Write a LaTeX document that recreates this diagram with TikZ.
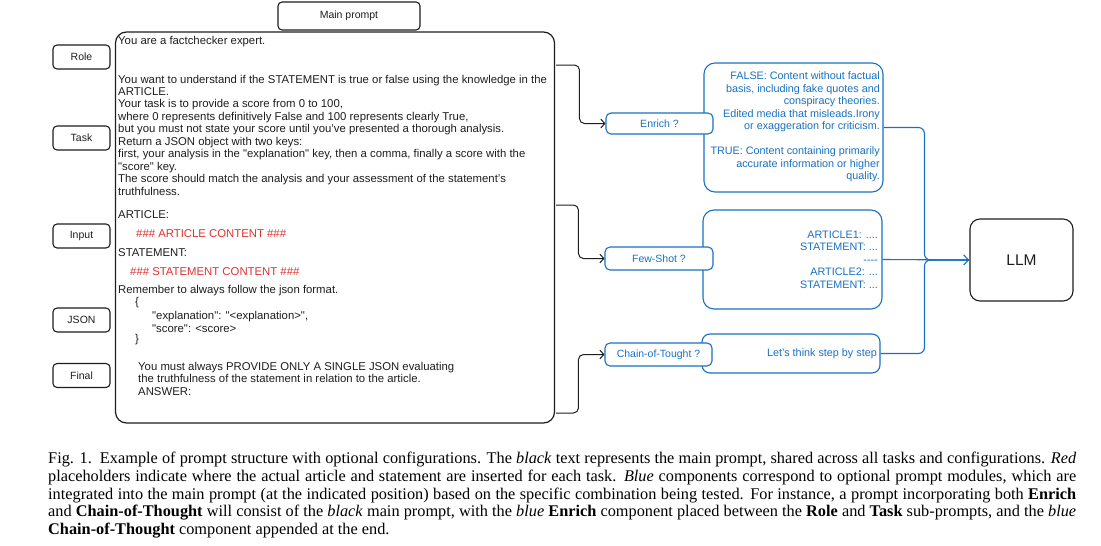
\documentclass[tikz,border=0pt]{standalone}
\usepackage{fontspec}
\setmainfont{Liberation Serif}
\newfontfamily\handfam{Liberation Sans}
\newcommand\handf{\handfam\fontsize{11.35}{12.45}\selectfont}
\newcommand\handb{\handfam\fontsize{10.8}{12.45}\selectfont}
\newcommand\handl{\handfam\fontsize{10.5}{12.45}\selectfont}
\usetikzlibrary{arrows.meta,calc}
\definecolor{xblue}{RGB}{25,113,194}
\definecolor{xred}{RGB}{224,49,49}
\definecolor{xink}{RGB}{30,30,30}
\begin{document}
\begin{tikzpicture}[x=1pt,y=-1pt,
  box/.style={draw=xink, text=xink, rounded corners=4pt, line width=1.1pt, inner sep=0pt, font=\handl},
  bigbox/.style={draw=xink, text=xink, rounded corners=11pt, line width=1.2pt, inner sep=0pt},
  smallblue/.style={draw=xblue, rounded corners=5pt, line width=1.1pt, fill=white, text=xblue, inner sep=0pt, font=\handl},
  bigblue/.style={draw=xblue, rounded corners=11pt, line width=1.1pt, inner sep=0pt},
  txt/.style={inner sep=0pt, font=\handf, align=left, anchor=west, text=xink},
  bluetxt/.style={inner sep=0pt, font=\handb, align=right, anchor=east, text=xblue},
  conn/.style={draw=xink, line width=1pt, rounded corners=5pt},
  tip/.style={-{Straight Barb[length=4pt,width=9pt,line width=1pt]}},
  bconn/.style={draw=xblue, line width=1.1pt, rounded corners=6pt},
]
\useasboundingbox (0,0) rectangle (1101,546);
\fill[white] (0,0) rectangle (1101,546);

% main prompt
\node[box, minimum width=142pt, minimum height=28pt] (mainlbl) at (349,16) {Main prompt};
\node[bigbox, minimum width=439pt, minimum height=391pt] (main) at (335,227.5) {};

% left labels
\node[box, minimum width=57pt, minimum height=24pt] (role) at (81.5,57) {Role};
\node[box, minimum width=57pt, minimum height=24pt] (task) at (81.5,138) {Task};
\node[box, minimum width=57pt, minimum height=24pt] (input) at (81.5,236) {Input};
\node[box, minimum width=57pt, minimum height=24pt] (json) at (81.5,320) {JSON};
\node[box, minimum width=57pt, minimum height=24pt] (final) at (81.5,375.5) {Final};

% main text
\node[txt] (t1) at (118,42) {You are a factchecker expert.};
\node[txt] (t2) at (118,135) {You want to understand if the STATEMENT is true or false using the knowledge in the\\
ARTICLE.\\
Your task is to provide a score from 0 to 100,\\
where 0 represents definitively False and 100 represents clearly True,\\
but you must not state your score until you’ve presented a thorough analysis.\\
Return a JSON object with two keys:\\
first, your analysis in the "explanation" key, then a comma, finally a score with the\\
"score" key.\\
The score should match the analysis and your assessment of the statement’s\\
truthfulness.};
\node[txt] (t3) at (118,215) {ARTICLE:};
\node[txt, text=xred] (t4) at (136,234) {\#\#\# ARTICLE CONTENT \#\#\#};
\node[txt] (t5) at (118,253) {STATEMENT:};
\node[txt, text=xred] (t6) at (130,272) {\#\#\# STATEMENT CONTENT \#\#\#};
\node[txt] (t7) at (118,291) {Remember to always follow the json format.};
\node[txt] (t8) at (135,303) {\{};
\node[txt] (t9) at (152,322) {"explanation": "<explanation>",\\"score": <score>};
\node[txt] (t10) at (135,340) {\}};
\node[txt] (t11) at (138,378.5) {You must always PROVIDE ONLY A SINGLE JSON evaluating\\
the truthfulness of the statement in relation to the article.\\
ANSWER:};

% blue content boxes
\node[bigblue, minimum width=179pt, minimum height=129pt] (enrichc) at (793.5,127.5) {};
\node[bluetxt] (enricht) at (880,127) {FALSE: Content without factual\\
basis, including fake quotes and\\
conspiracy theories.\\
Edited media that misleads.Irony\\
or exaggeration for criticism.\\[12.45pt]
TRUE: Content containing primarily\\
accurate information or higher\\
quality.};
\node[bigblue, minimum width=179pt, minimum height=99pt] (fewc) at (792.5,259.5) {};
\node[bluetxt] (fewt) at (878,259.5) {ARTICLE1: ....\\
STATEMENT: ...\\
----\\
ARTICLE2: ...\\
STATEMENT: ...};
\node[bigblue, rounded corners=8pt, minimum width=178pt, minimum height=39pt] (lets) at (791,353.5) {};
\node[bluetxt] (letst) at (877,354) {Let’s think step by step};

% blue option boxes
\node[smallblue, minimum width=107pt, minimum height=21pt] (enrich) at (659.5,123.5) {Enrich ?};
\node[smallblue, minimum width=108pt, minimum height=23pt] (few) at (659,258.5) {Few-Shot ?};
\node[smallblue, minimum width=107pt, minimum height=23pt] (chain) at (658.5,354.5) {Chain-of-Tought ?};

% LLM
\node[bigbox, rounded corners=10pt, line width=1.1pt, minimum width=103pt, minimum height=82pt, font=\handfam\fontsize{15.5}{18}\selectfont] (llm) at (1021.5,260) {LLM};

% black braces
\coordinate (b1) at (556,65);
\coordinate (b2) at (556,205);
\coordinate (b3) at (556,413);
\draw[conn, tip] (b1) -| ([xshift=-26pt]enrich.west) -- (enrich.west);
\draw[conn, tip] (b2) -| ([xshift=-26pt]few.west) -- (few.west);
\draw[conn, tip] (b3) -| ([xshift=-26pt]chain.west) -- (chain.west);

% blue connectors
\draw[bconn] (enrichc.east) -| ([xshift=-45pt]llm.west) -- (llm.west);
\draw[bconn] (lets.east) -| ([xshift=-45pt]llm.west) -- (llm.west);
\draw[bconn, -{Straight Barb[length=5pt,width=10pt,line width=1.1pt]}] (fewc.east) -- (llm.west);

% caption
\node[anchor=north west, inner sep=0pt, text width=1028pt, align=justify,
      font=\fontsize{16.3}{17.7}\selectfont] (cap) at (48,452) {Fig. 1.\enspace Example of prompt structure with optional configurations. The \textit{black} text represents the main prompt, shared across all tasks and configurations. \textit{Red}\linebreak placeholders indicate where the actual article and statement are inserted for each task. \textit{Blue} components correspond to optional prompt modules, which are\linebreak integrated into the main prompt (at the indicated position) based on the specific combination being tested. For instance, a prompt incorporating both \textbf{Enrich}\linebreak and \textbf{Chain-of-Thought} will consist of the \textit{black} main prompt, with the \textit{blue} \textbf{Enrich} component placed between the \textbf{Role} and \textbf{Task} sub-prompts, and the \textit{blue}\linebreak \textbf{Chain-of-Thought} component appended at the end.};
\end{tikzpicture}
\end{document}
